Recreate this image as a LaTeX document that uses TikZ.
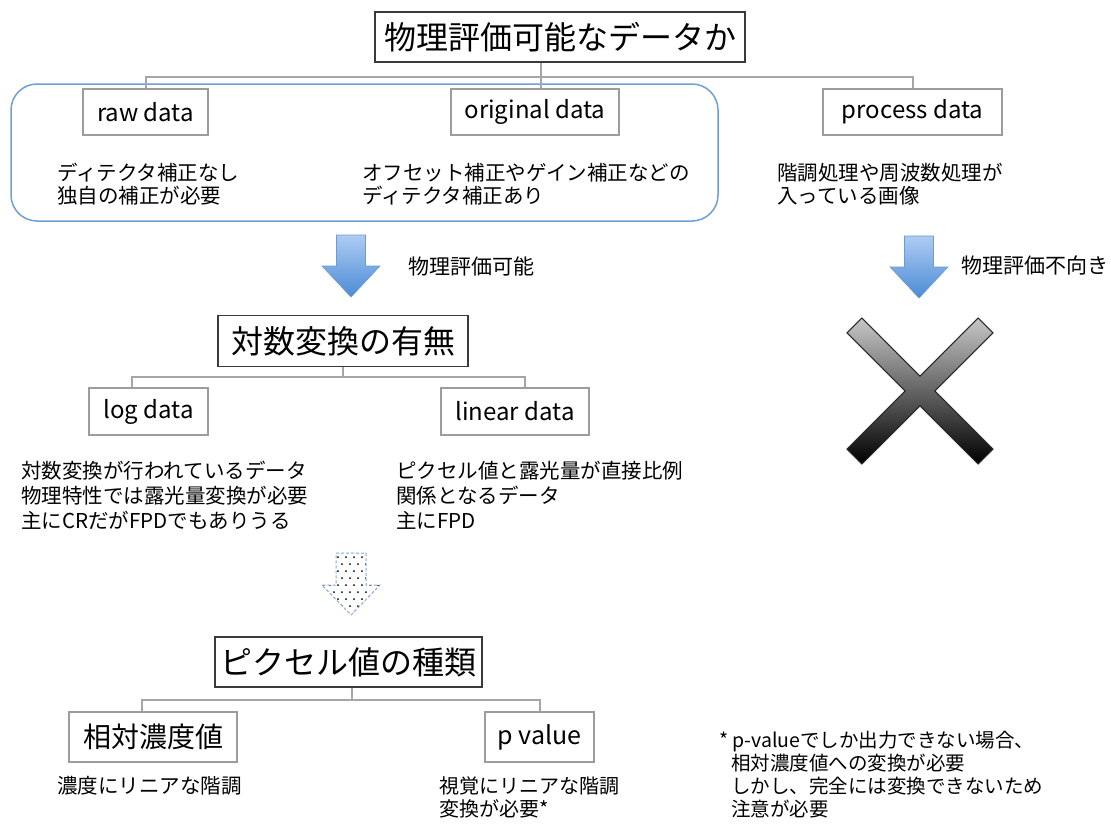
\documentclass[tikz,border=0pt]{standalone}
\usepackage{fontspec}
\setmainfont{Noto Sans CJK JP}
\usetikzlibrary{calc}
\definecolor{treegray}{HTML}{A6A6A6}
\definecolor{boxgray}{HTML}{9C9C9C}
\definecolor{framedark}{HTML}{3A3A3A}
\definecolor{groupblue}{HTML}{6E9FD5}
\definecolor{arrowtop}{HTML}{AECBF2}
\definecolor{arrowbot}{HTML}{4A8CD6}
\definecolor{arrowline}{HTML}{6C9AD2}
\definecolor{dotline}{HTML}{86AADA}
\tikzset{
  headbox/.style={draw=framedark, line width=1.5pt, fill=white, inner sep=0pt,
    font=\fontsize{32}{38}\selectfont},
  catbox/.style={draw=boxgray, line width=1.5pt, fill=white, inner sep=0pt,
    font=\fontsize{24}{28}\selectfont},
  body/.style={anchor=west, align=left, inner sep=0pt, font=\fontsize{20.5}{25}\selectfont},
  tree/.style={draw=treegray, line width=2pt},
  bluearrow/.style={draw=arrowline, line width=0.6pt, top color=arrowtop, bottom color=arrowbot},
}
\begin{document}
\begin{tikzpicture}[x=1pt,y=-1pt]
\useasboundingbox (0,0) rectangle (1111,825);
\fill[white] (0,0) rectangle (1111,825);

% group frame
\draw[groupblue, line width=1.5pt, rounded corners=26pt] (11,84) rectangle (718,221);

% level 1
\node[headbox, minimum width=370pt, minimum height=50pt] (t1) at (560,37) {物理評価可能なデータか};
\node[catbox, minimum width=125pt, minimum height=46pt] (raw) at (145.5,112) {raw data};
\node[catbox, minimum width=168pt, minimum height=46pt] (orig) at (535,112) {original data};
\node[catbox, minimum width=179pt, minimum height=46pt] (proc) at (912.5,112) {process data};
\coordinate (b1) at (541,77);
\draw[tree] (t1.south -| b1) -- (b1);
\draw[tree] (raw.north) |- (b1) -| (proc.north);
\draw[tree] (b1) -- (orig.north -| b1);

\node[body, font=\fontsize{20.5}{23}\selectfont] (rawt) at (57,184) {ディテクタ補正なし\\独自の補正が必要};
\node[body, font=\fontsize{20.5}{23}\selectfont] (origt) at (362,184) {オフセット補正やゲイン補正などの\\ディテクタ補正あり};
\node[body, font=\fontsize{20.5}{23}\selectfont] (proct) at (777,184) {階調処理や周波数処理が\\入っている画像};

% arrows
\draw[bluearrow] (336.5,235) -- (365.5,235) -- (365.5,266) -- (380,266) -- (351,297) -- (322,266) -- (336.5,266) -- cycle;
\node[body, font=\fontsize{21}{25}\selectfont] (ok) at (408,267) {物理評価可能};
\draw[bluearrow] (904.5,236) -- (933.5,236) -- (933.5,267) -- (948,267) -- (919,298) -- (890,267) -- (904.5,267) -- cycle;
\node[body, font=\fontsize{21}{25}\selectfont] (ng) at (961,265) {物理評価不向き};

% cross
\draw[shift={(920,391)}, draw=black!85, line width=1pt, top color=black!22, bottom color=black]
  (0,14.85) -- (58.12,72.97) -- (72.97,58.12) -- (14.85,0) -- (72.97,-58.12) -- (58.12,-72.97)
  -- (0,-14.85) -- (-58.12,-72.97) -- (-72.97,-58.12) -- (-14.85,0) -- (-72.97,58.12) -- (-58.12,72.97) -- cycle;

% level 2
\node[headbox, minimum width=250pt, minimum height=51pt] (t2) at (343,341) {対数変換の有無};
\node[catbox, minimum width=119pt, minimum height=47pt] (log) at (148.5,411.5) {log data};
\node[catbox, minimum width=148pt, minimum height=47pt] (lin) at (515,411.5) {linear data};
\coordinate (b2) at (343,377);
\draw[tree] (t2.south) -- (b2);
\draw[tree] (log.north -| 132,0) |- (b2) -| (lin.north -| 525,0);

\node[body] (logt) at (21,495) {対数変換が行われているデータ\\物理特性では露光量変換が必要\\主にCRだがFPDでもありうる};
\node[body] (lint) at (396,495) {ピクセル値と露光量が直接比例\\関係となるデータ\\主にFPD};

% dotted arrow
\fill[white] (336,553) -- (366,553) -- (366,585) -- (380,585) -- (351,615) -- (322,585) -- (336,585) -- cycle;
\begin{scope}
  \clip (336,553) -- (366,553) -- (366,585) -- (380,585) -- (351,615) -- (322,585) -- (336,585) -- cycle;
  \foreach \r in {0,...,8} {
    \pgfmathsetmacro{\yy}{557+7*\r}
    \pgfmathsetmacro{\off}{mod(\r,2)*4}
    \foreach \c in {0,...,7} {
      \fill[black] ({322+\off+8*\c},\yy) circle (1pt);
    }
  }
\end{scope}
\draw[dotline, line width=1pt, dash pattern=on 3pt off 2pt]
  (336,553) -- (366,553) -- (366,585) -- (380,585) -- (351,615) -- (322,585) -- (336,585) -- cycle;

% level 3
\node[headbox, minimum width=267pt, minimum height=50pt] (t3) at (348.5,662) {ピクセル値の種類};
\node[catbox, minimum width=168pt, minimum height=50pt, font=\fontsize{28}{32}\selectfont] (rel) at (153,737) {相対濃度値};
\node[catbox, minimum width=109pt, minimum height=50pt, font=\fontsize{25}{28}\selectfont] (pv) at (539.5,737) {p value};
\coordinate (b3) at (352,700);
\draw[tree] (t3.south -| b3) -- (b3);
\draw[tree] (rel.north -| 142,0) |- (b3) -| (pv.north);

\node[body] (relt) at (57,786) {濃度にリニアな階調};
\node[body, font=\fontsize{20}{23}\selectfont] (pvt) at (439,797.5) {視覚にリニアな階調\\変換が必要*};
\node[body, font=\fontsize{19.5}{23}\selectfont] (note) at (719,774.5) {* p-valueでしか出力できない場合、\\\hspace*{12pt}相対濃度値への変換が必要\\\hspace*{12pt}しかし、完全には変換できないため\\\hspace*{12pt}注意が必要};
\end{tikzpicture}
\end{document}
